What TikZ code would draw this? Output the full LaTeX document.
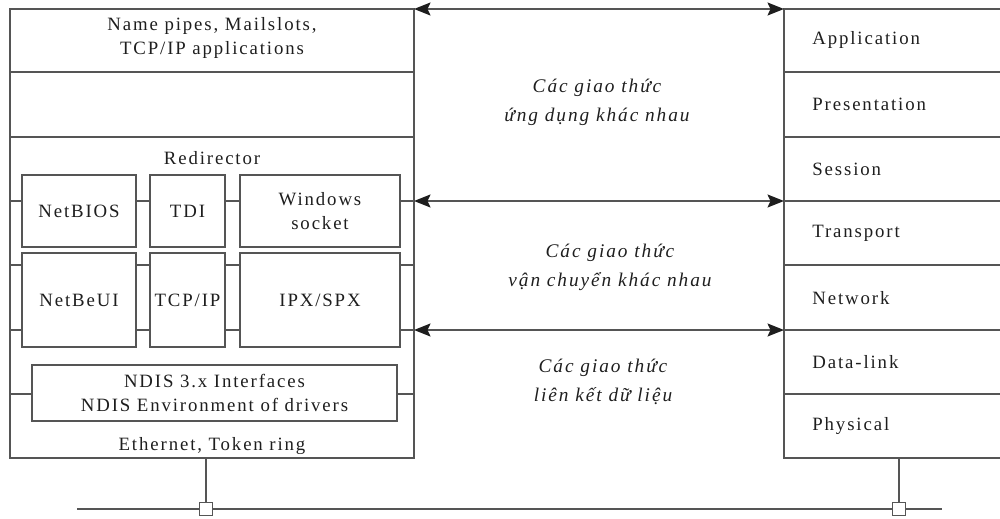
\documentclass[tikz,border=0pt]{standalone}
\usepackage{fontspec}
\setmainfont{Liberation Serif}[LetterSpace=10]
\usetikzlibrary{arrows.meta}
\definecolor{linegrey}{RGB}{85,85,85}
\definecolor{textgrey}{RGB}{30,30,30}
\def\u{0.02cm}

\begin{document}
\begin{tikzpicture}[x=\u, y=-\u,
  every node/.style={font=\fontsize{10.7}{14}\selectfont, text=textgrey},
  frame/.style={draw=linegrey, line width=1pt},
  inbox/.style={frame, fill=white, align=center, inner sep=0pt},
  proto/.style={align=center, font=\itshape\fontsize{11}{16.5}\selectfont},
  osilabel/.style={anchor=west, inner sep=0pt},
  tap/.style={frame, fill=white, inner sep=0pt, minimum size=13*\u},
  link/.style={draw=linegrey, line width=1pt,
    {Stealth[length=0.33cm,width=0.26cm,inset=0.06cm,color=textgrey]}-{Stealth[length=0.33cm,width=0.26cm,inset=0.06cm,color=textgrey]}}]

\useasboundingbox (0,0) rectangle (1000,518);

% Left stack (Windows NT)
\draw[frame] (10,9) rectangle (414,458);
\draw[frame] (10,72) -- (414,72);
\draw[frame] (10,137) -- (414,137);
% layer lines behind the inner boxes
\foreach \y in {201,265,330,394} {
  \draw[frame] (10,\y) -- (414,\y);
}

\node[align=center] (namepipes) at (212,38) {Name pipes, Mailslots,\\TCP/IP applications};
\node (redirector) at (212,158) {Redirector};

% Row 1
\node[inbox, minimum width=114*\u, minimum height=72*\u] (netbios) at (79,211) {NetBIOS};
\node[inbox, minimum width=75*\u, minimum height=72*\u] (tdi) at (187.5,211) {TDI};
\node[inbox, minimum width=160*\u, minimum height=72*\u] (winsock) at (320,211) {Windows\\socket};

% Row 2
\node[inbox, minimum width=114*\u, minimum height=94*\u] (netbeui) at (79,300) {NetBeUI};
\node[inbox, minimum width=75*\u, minimum height=94*\u] (tcpip) at (187.5,300) {TCP/IP};
\node[inbox, minimum width=160*\u, minimum height=94*\u] (ipxspx) at (320,300) {IPX/SPX};

% NDIS
\node[inbox, minimum width=365*\u, minimum height=56*\u] (ndis) at (214.5,393)
  {NDIS 3.x Interfaces\\NDIS Environment of drivers};
\node (ethernet) at (212,446) {Ethernet, Token ring};

% Right stack (OSI)
\draw[frame] (1000,9) -- (784,9) -- (784,458) -- (1000,458);
\foreach \y in {72,137,201,265,330,394} {
  \draw[frame] (784,\y) -- (1000,\y);
}
\foreach \name/\txt/\y in {app/Application/40, pres/Presentation/104, sess/Session/169,
    trans/Transport/233, net/Network/298, dlink/Data-link/362, phys/Physical/426} {
  \node[osilabel] (\name) at (812,\y) {\txt};
}

% Protocol arrows
\coordinate (stackTop) at (414,9);
\coordinate (osiTop) at (784,9);
\coordinate (stackSock) at (414,201);
\coordinate (osiSess) at (784,201);
\coordinate (stackNet) at (414,330);
\coordinate (osiNet) at (784,330);
\draw[link] (stackTop) -- (osiTop);
\draw[link] (stackSock) -- (osiSess);
\draw[link] (stackNet) -- (osiNet);

\node[proto] (appproto) at (597,102) {Các giao thức\\ứng dụng khác nhau};
\node[proto] (transproto) at (610,267) {Các giao thức\\vận chuyển khác nhau};
\node[proto] (linkproto) at (603,382) {Các giao thức\\liên kết dữ liệu};

% Bus
\coordinate (busL) at (77,509);
\coordinate (busR) at (942,509);
\node[tap] (tapL) at (206,509) {};
\node[tap] (tapR) at (899,509) {};
\coordinate (stackFoot) at (206,458);
\coordinate (osiFoot) at (899,458);
\draw[frame] (busL) -- (tapL) -- (tapR) -- (busR);
\draw[frame] (stackFoot) -- (tapL);
\draw[frame] (osiFoot) -- (tapR);

\end{tikzpicture}
\end{document}
